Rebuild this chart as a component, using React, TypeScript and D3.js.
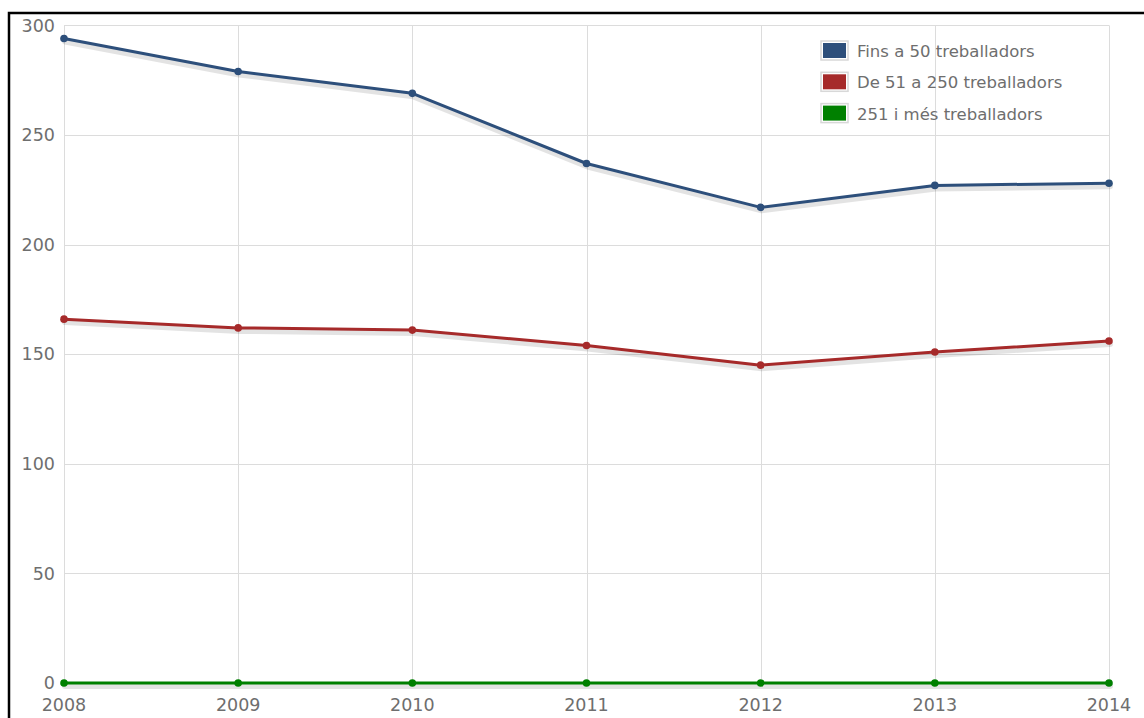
import React from 'react';
import * as d3 from 'd3';

const years = [2008, 2009, 2010, 2011, 2012, 2013, 2014];
const fins50 = [294, 279, 269, 237, 217, 227, 228];
const de51a250 = [166, 162, 161, 154, 145, 151, 156];
const mes251 = [0, 0, 0, 0, 0, 0, 0];
const yTicks = [0, 50, 100, 150, 200, 250, 300];

const series = [
  { name: 'Fins a 50 treballadors', values: fins50, color: '#2d4f7b' },
  { name: 'De 51 a 250 treballadors', values: de51a250, color: '#a62a2a' },
  { name: '251 i més treballadors', values: mes251, color: '#008000' }
];

const font = '"DejaVu Sans", Verdana, sans-serif';

export default function App() {
  const width = 1144;
  const height = 718;
  const left = 64, right = 1109, top = 25.4, bottom = 683;

  const x = d3.scalePoint<number>().domain(years).range([left, right]);
  const y = d3.scaleLinear().domain([0, 300]).range([bottom, top]);

  const line = d3.line<number>()
    .x((d, i) => x(years[i]) as number)
    .y((d) => y(d));

  return (
    <svg width={width} height={height} style={{ position: 'absolute', left: 0, top: 0 }}>
      <rect width={width} height={height} fill="#fff" />
      {/* outer frame, only top and left visible */}
      <path d={`M9,${height} L9,13 L${width},13`} fill="none" stroke="#000" strokeWidth={2.5} />

      {/* grid */}
      <g stroke="#dcdcdc" strokeWidth={1}>
        {yTicks.map((t) => (
          <line key={'h' + t} x1={left} x2={right} y1={Math.round(y(t)) + 0.5} y2={Math.round(y(t)) + 0.5} />
        ))}
        {years.map((yr) => (
          <line key={'v' + yr} x1={Math.round(x(yr) as number) + 0.5} x2={Math.round(x(yr) as number) + 0.5} y1={top} y2={bottom} />
        ))}
      </g>

      {/* y labels */}
      <g fontFamily={font} fontSize={17.5} fill="#6e6e6e" textAnchor="end">
        {yTicks.map((t) => (
          <text key={t} x={55} y={y(t)} dy="0.35em">{t}</text>
        ))}
      </g>
      {/* x labels */}
      <g fontFamily={font} fontSize={17.5} fill="#6e6e6e" textAnchor="middle">
        {years.map((yr) => (
          <text key={yr} x={x(yr) as number} y={711}>{yr}</text>
        ))}
      </g>

      {/* shadows */}
      <g transform="translate(1,3)" fill="none" strokeLinejoin="round" strokeLinecap="round">
        {series.map((s) => (
          <path key={s.name} d={line(s.values) || ''} stroke="rgba(0,0,0,0.11)" strokeWidth={6} />
        ))}
      </g>

      {/* lines */}
      {series.map((s) => (
        <g key={s.name}>
          <path d={line(s.values) || ''} fill="none" stroke={s.color} strokeWidth={3} strokeLinejoin="round" />
          {s.values.map((v, i) => (
            <circle key={i} cx={x(years[i]) as number} cy={y(v)} r={3.8} fill={s.color} />
          ))}
        </g>
      ))}

      {/* legend */}
      <g fontFamily={font} fontSize={16.5} fill="#6e6e6e">
        {series.map((s, i) => (
          <g key={s.name} transform={`translate(821,${41 + i * 31.3})`}>
            <rect x={0} y={0} width={27} height={19} fill="#fff" stroke="#d8d8d8" strokeWidth={1.5} />
            <rect x={2} y={2} width={23} height={15} fill={s.color} />
            <text x={36} y={16}>{s.name}</text>
          </g>
        ))}
      </g>
    </svg>
  );
}
